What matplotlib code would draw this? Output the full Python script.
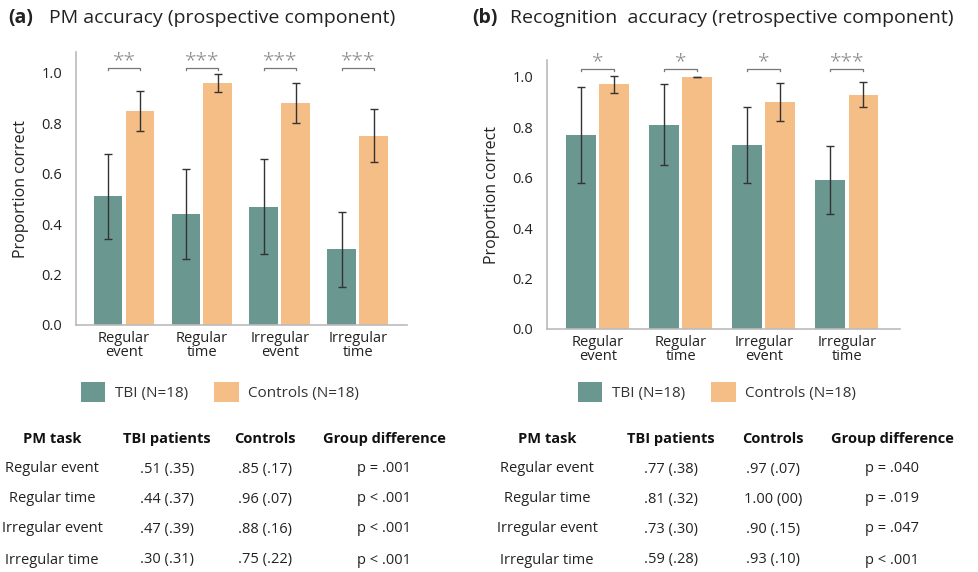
import matplotlib.pyplot as plt
import numpy as np

plt.rcParams['font.family'] = ['Open Sans', 'DejaVu Sans']

tasks = ["Regular\nevent", "Regular\ntime", "Irregular\nevent", "Irregular\ntime"]
task_rows = ["Regular event", "Regular time", "Irregular event", "Irregular time"]

# (a) PM accuracy
pm_tbi = [0.51, 0.44, 0.47, 0.30]
pm_tbi_err = [0.17, 0.18, 0.19, 0.15]
pm_ctrl = [0.85, 0.96, 0.88, 0.75]
pm_ctrl_err = [0.08, 0.035, 0.08, 0.105]
pm_stars = ["**", "***", "***", "***"]
pm_table = [
    [".51 (.35)", ".85 (.17)", "p = .001"],
    [".44 (.37)", ".96 (.07)", "p < .001"],
    [".47 (.39)", ".88 (.16)", "p < .001"],
    [".30 (.31)", ".75 (.22)", "p < .001"],
]

# (b) recognition accuracy
rec_tbi = [0.77, 0.81, 0.73, 0.59]
rec_tbi_err = [0.19, 0.16, 0.15, 0.135]
rec_ctrl = [0.97, 1.00, 0.90, 0.93]
rec_ctrl_err = [0.035, 0.0, 0.075, 0.05]
rec_stars = ["*", "*", "*", "***"]
rec_table = [
    [".77 (.38)", ".97 (.07)", "p = .040"],
    [".81 (.32)", "1.00 (00)", "p = .019"],
    [".73 (.30)", ".90 (.15)", "p = .047"],
    [".59 (.28)", ".93 (.10)", "p < .001"],
]

headers = ["PM task", "TBI patients", "Controls", "Group difference"]

TEAL = "#6a978f"
ORANGE = "#f6be87"
W, H = 979, 572

fig = plt.figure(figsize=(W / 100, H / 100), dpi=100)


def px(x, y):
    return x / W, 1 - y / H


def draw_panel(rect, tbi, tbi_err, ctrl, ctrl_err, stars, ylim_top, xlim, bw,
               line_y):
    ax = fig.add_axes(rect)
    x = np.arange(len(tasks))
    off = bw / 2 + 0.02
    ekw = dict(ecolor="#333333", elinewidth=1.0, capsize=2.8, capthick=1.0)
    ax.bar(x - off, tbi, bw, color=TEAL, yerr=tbi_err, error_kw=ekw, label="TBI (N=18)")
    ax.bar(x + off, ctrl, bw, color=ORANGE, yerr=ctrl_err, error_kw=ekw,
           label="Controls (N=18)")
    for i, s in enumerate(stars):
        x0, x1 = x[i] - off, x[i] + off
        ax.plot([x0, x0, x1, x1], [line_y - 0.008, line_y, line_y, line_y - 0.008],
                color="#777777", lw=0.9, clip_on=False)
        ax.text(x[i], line_y + 0.008, s, ha="center", va="baseline", fontsize=15,
                fontweight="light", color="#888888", clip_on=False)
    ax.set_xlim(*xlim)
    ax.set_ylim(0, ylim_top)
    ax.set_yticks([0, 0.2, 0.4, 0.6, 0.8, 1.0])
    ax.set_yticklabels(["0.0", "0.2", "0.4", "0.6", "0.8", "1.0"])
    ax.set_xticks(x)
    ax.set_xticklabels(tasks, linespacing=0.95)
    ax.tick_params(length=0, labelsize=10.5, colors="#222222")
    ax.tick_params(axis="y", pad=10)
    ax.tick_params(axis="x", pad=4)
    ax.set_ylabel("Proportion correct", fontsize=11.5, color="#222222", labelpad=9)
    for side in ["top", "right"]:
        ax.spines[side].set_visible(False)
    for side in ["left", "bottom"]:
        ax.spines[side].set_color("#bbbbbb")
        ax.spines[side].set_linewidth(1.2)
    return ax


ax_a = draw_panel([76 / W, 1 - 325 / H, 331 / W, 273 / H], pm_tbi, pm_tbi_err,
                  pm_ctrl, pm_ctrl_err, pm_stars, 1.083, (-0.615, 3.63), 0.37, 1.02)
ax_b = draw_panel([547 / W, 1 - 329 / H, 353 / W, 269 / H], rec_tbi, rec_tbi_err,
                  rec_ctrl, rec_ctrl_err, rec_stars, 1.067, (-0.61, 3.64), 0.36, 1.03)

# titles
fig.text(*px(8, 18), "(a)", fontsize=14, fontweight="bold", va="center", color="#222222")
fig.text(*px(49, 18), "PM accuracy (prospective component)", fontsize=14,
         va="center", color="#222222")
fig.text(*px(472, 18), "(b)", fontsize=14, fontweight="bold", va="center", color="#222222")
fig.text(*px(510, 18), "Recognition  accuracy (retrospective component)", fontsize=14,
         va="center", color="#222222")

# legends
for ax, cx in [(ax_a, 220), (ax_b, 717)]:
    h, l = ax.get_legend_handles_labels()
    fig.legend(h, l, loc="center", bbox_to_anchor=px(cx, 392), ncol=2, frameon=False,
               fontsize=11, handlelength=1.6, handleheight=1.6, handletextpad=0.65,
               columnspacing=1.7, borderpad=0, labelcolor="#333333")

# tables
row_ys = [469, 499, 529, 560]
for cols, data in [([52, 167, 265, 384], pm_table), ([547, 671, 773, 892], rec_table)]:
    for c, hdr in zip(cols, headers):
        fig.text(*px(c, 439), hdr, ha="center", va="center", fontsize=10.5,
                 fontweight="bold", color="#111111")
    for ry, name, vals in zip(row_ys, task_rows, data):
        cells = [name] + vals
        for c, t in zip(cols, cells):
            fig.text(*px(c, ry), t, ha="center", va="center", fontsize=10.5,
                     color="#222222")

fig.savefig("out.png", dpi=100)
